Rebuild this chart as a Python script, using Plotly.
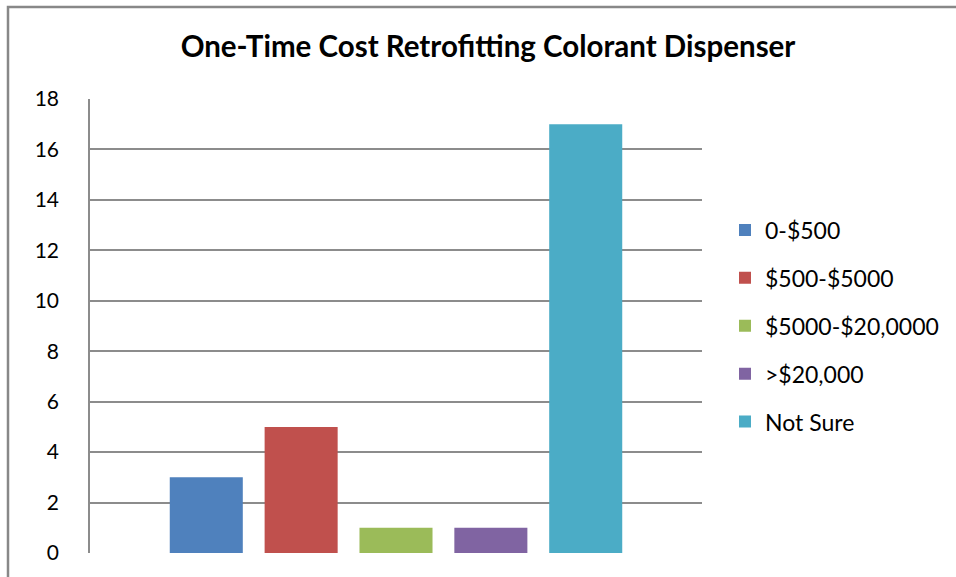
import plotly.graph_objects as go

categories = ["0-$500", "$500-$5000", "$5000-$20,0000", ">$20,000", "Not Sure"]
values = [3, 5, 1, 1, 17]
colors = ["#4F81BD", "#C0504D", "#9BBB59", "#8064A2", "#4BACC6"]
y_ticks = [0, 2, 4, 6, 8, 10, 12, 14, 16, 18]
title_text = "One-Time Cost Retrofitting Colorant Dispenser"

FONT = "Lato"

fig = go.Figure()
for i, (name, val, col) in enumerate(zip(categories, values, colors)):
    fig.add_trace(go.Bar(
        x=["Cost"], y=[val], name=name,
        marker=dict(color=col, line=dict(width=0)),
        legendgroup=f"g{i}",
    ))

W, H = 956, 577
L, R, T, B = 90, 254, 99, 24
pw = W - L - R
ph = H - T - B

def px_to_paper_x(x):
    return (x - L) / pw

def px_to_paper_y(y):
    return (H - B - y) / ph

fig.update_layout(
    width=W, height=H,
    margin=dict(l=L, r=R, t=T, b=B),
    paper_bgcolor="white", plot_bgcolor="white",
    barmode="group", bargap=0.225, bargroupgap=0.23,
    title=dict(text=f"<b>{title_text}</b>", x=px_to_paper_x(488), xref="paper", xanchor="center",
               y=1 - 47 / H, yanchor="middle",
               font=dict(family=FONT, size=29.5, color="black")),
    font=dict(family=FONT, color="black"),
    showlegend=True,
    legend=dict(x=px_to_paper_x(725), xanchor="left", y=0.5, yanchor="middle",
                font=dict(family=FONT, size=23, color="black"),
                tracegroupgap=15, bgcolor="rgba(0,0,0,0)"),
    xaxis=dict(showticklabels=False, showgrid=False, zeroline=False, showline=False,
               ticks=""),
    yaxis=dict(range=[0, 18], tickvals=y_ticks, showgrid=True, gridcolor="#8c8c8c", gridwidth=1.5,
               zeroline=False, showline=True, linecolor="#8c8c8c", linewidth=1.5,
               ticks="", ticklabelstandoff=25,
               tickfont=dict(family=FONT, size=21, color="black")),
    shapes=[dict(type="path", xref="paper", yref="paper",
                 path=f"M {px_to_paper_x(8)} {px_to_paper_y(590)} L {px_to_paper_x(8)} {px_to_paper_y(7)} L {px_to_paper_x(970)} {px_to_paper_y(7)}",
                 line=dict(color="#888888", width=2.5), layer="above")],
)

fig.write_html("out.html", config={"displayModeBar": False},
               post_script="document.body.style.margin='0';document.body.style.overflow='hidden';")
